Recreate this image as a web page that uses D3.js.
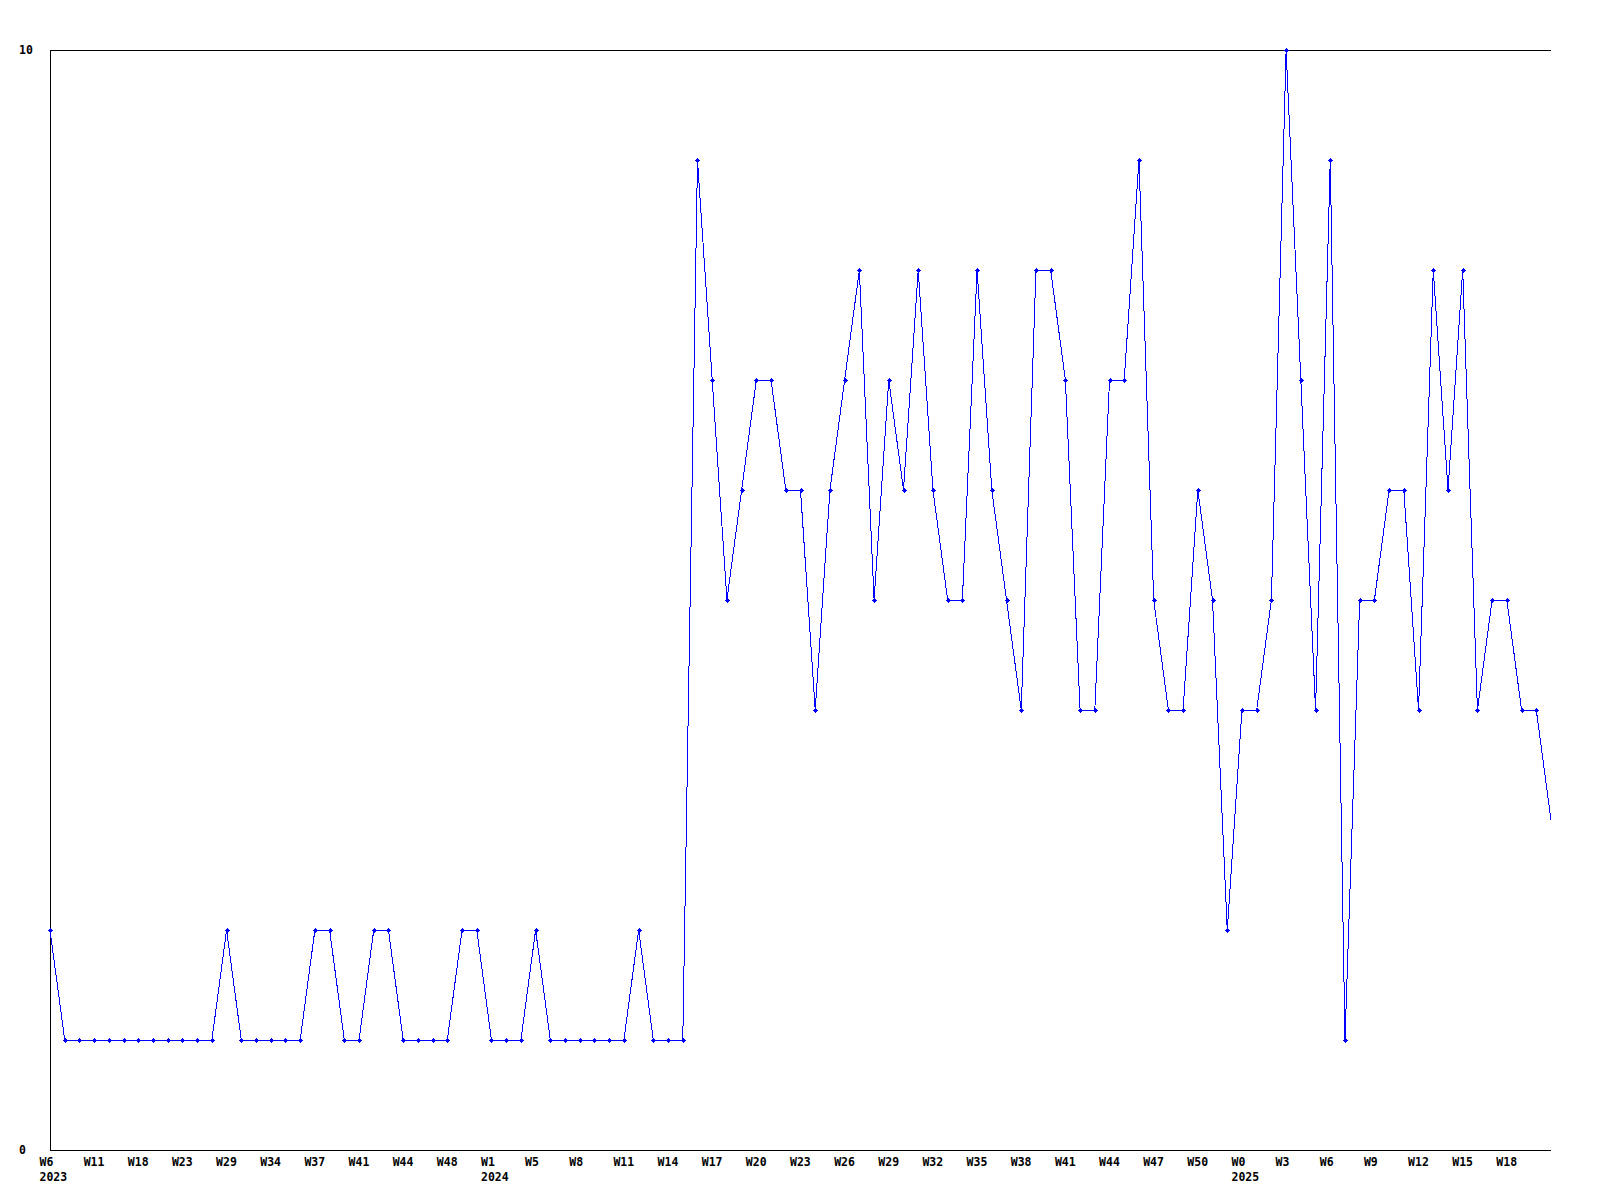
<!DOCTYPE html>
<html>
<head>
<meta charset="utf-8">
<script src="https://cdn.jsdelivr.net/npm/d3@7"></script>
<style>
  html, body { margin: 0; padding: 0; background: #fff; }
  svg { display: block; }
  text { font-family: "DejaVu Sans Mono", "Liberation Mono", monospace; font-weight: bold; font-size: 11.5px; fill: #000; }
</style>
</head>
<body>
<script>
// Tick labels shown every 3rd sample
const weekLabels = ["W6","W11","W18","W23","W29","W34","W37","W41","W44","W48",
  "W1","W5","W8","W11","W14","W17","W20","W23","W26","W29","W32","W35","W38",
  "W41","W44","W47","W50","W0","W3","W6","W9","W12","W15","W18"];
const yearLabels = ["2023","","","","","","","","","",
  "2024","","","","","","","","","","","","",
  "","","","","2025","","","","","",""];
const yTickValues = [0, 10];
// Series values (one per sample)
const values = [
  2,1,1,1,1,1,1,1,1,1,1,1,2,1,1,1,1,1,2,2,
  1,1,2,2,1,1,1,1,2,2,1,1,1,2,1,1,1,1,1,1,
  2,1,1,1,9,7,5,6,7,7,6,6,4,6,7,8,5,7,6,8,
  6,5,5,8,6,5,4,8,8,7,4,4,7,7,9,5,4,4,6,5,
  2,4,4,5,10,7,4,9,1,5,5,6,6,4,8,6,8,4,5,5,
  4,4,3
];

(function () {
const W = 1600, H = 1200;
const mLeft = 50, mRight = 1551, mTop = 50, mBottom = 1150;

const svg = d3.select("body").append("svg").attr("width", W).attr("height", H);

const x = d3.scaleLinear().domain([0, values.length - 1]).range([mLeft, mRight]);
const y = d3.scaleLinear().domain([0, 10]).range([mBottom, mTop]);

// frame lines
svg.append("line").attr("x1", mLeft + 0.5).attr("x2", mLeft + 0.5).attr("y1", mTop).attr("y2", mBottom + 1)
  .attr("stroke", "#000").attr("shape-rendering", "crispEdges");
svg.append("line").attr("x1", mLeft).attr("x2", mRight).attr("y1", mTop + 0.5).attr("y2", mTop + 0.5)
  .attr("stroke", "#000").attr("shape-rendering", "crispEdges");
svg.append("line").attr("x1", mLeft).attr("x2", mRight).attr("y1", mBottom + 0.5).attr("y2", mBottom + 0.5)
  .attr("stroke", "#000").attr("shape-rendering", "crispEdges");

// y tick labels
svg.selectAll("text.ylab").data(yTickValues).enter().append("text")
  .attr("class", "ylab")
  .attr("x", 19)
  .attr("y", d => y(d) + 4)
  .text(d => d);

// x axis labels via d3 axis
const tickIdx = weekLabels.map((_, i) => i * 3);
const xAxis = d3.axisBottom(x).tickValues(tickIdx).tickSize(0)
  .tickFormat((d, i) => weekLabels[i]);
const gx = svg.append("g").attr("transform", `translate(0,${mBottom})`).call(xAxis);
gx.select(".domain").remove();
gx.selectAll(".tick text")
  .attr("text-anchor", "start")
  .attr("x", -11)
  .attr("y", 16)
  .attr("dy", 0)
  .style("font-family", "'DejaVu Sans Mono', monospace")
  .style("font-weight", "bold")
  .style("font-size", "11.5px");
gx.selectAll(".tick").each(function(d, i) {
  if (yearLabels[i]) {
    d3.select(this).append("text")
      .attr("fill", "#000")
      .attr("text-anchor", "start")
      .attr("x", -11)
      .attr("y", 31)
      .style("font-family", "'DejaVu Sans Mono', monospace")
      .style("font-weight", "bold")
      .style("font-size", "11.5px")
      .text(yearLabels[i]);
  }
});

// clip
svg.append("clipPath").attr("id", "clip").append("rect")
  .attr("x", 0).attr("y", 0).attr("width", mRight - 2).attr("height", H);

const line = d3.line().x((d, i) => x(i)).y(d => y(d));
svg.append("path")
  .datum(values)
  .attr("d", line)
  .attr("fill", "none")
  .attr("stroke", "#0000ff")
  .attr("stroke-width", 1)
  .attr("shape-rendering", "crispEdges");

const marker = "M-2.5,-0.5h5v1h-5zM-0.5,-2.5h1v5h-1zM-1.5,-1.5h3v3h-3z";
svg.append("g").attr("clip-path", "url(#clip)")
  .selectAll("path").data(values).enter().append("path")
  .attr("d", marker)
  .attr("transform", (d, i) => `translate(${Math.round(x(i)) + 0.5},${Math.round(y(d)) + 0.5})`)
  .attr("fill", "#0000ff")
  .attr("shape-rendering", "crispEdges");
})();
</script>
</body>
</html>
